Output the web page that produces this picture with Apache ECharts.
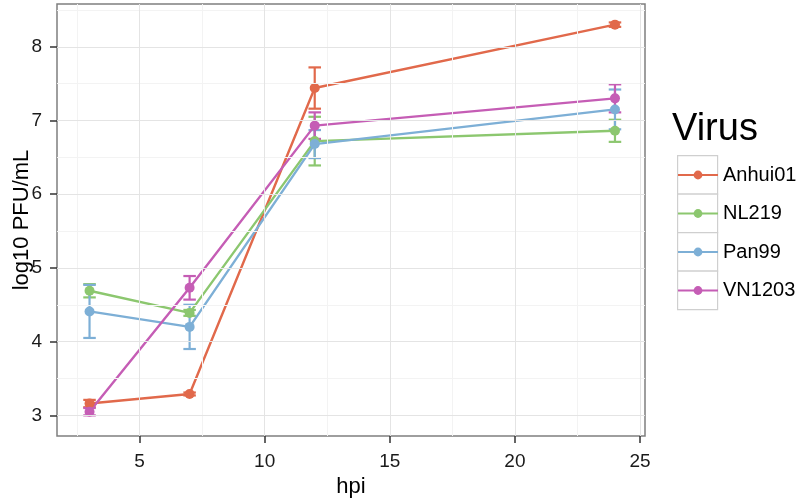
<!DOCTYPE html>
<html>
<head>
<meta charset="utf-8">
<script src="https://cdn.jsdelivr.net/npm/echarts@6/dist/echarts.min.js"></script>
<style>
html,body{margin:0;padding:0;background:#fff;}
#chart{width:800px;height:500px;}
</style>
</head>
<body>
<div id="chart"></div>
<script>
// ---- data ----
var hpi = [3, 7, 12, 24];
var virusNames = ['Anhui01', 'NL219', 'Pan99', 'VN1203'];
var anhui01Mean = [3.16, 3.29, 7.44, 8.30];
var anhui01Err  = [0.05, 0.02, 0.28, 0.03];
var nl219Mean   = [4.69, 4.39, 6.72, 6.86];
var nl219Err    = [0.09, 0.04, 0.33, 0.15];
var pan99Mean   = [4.41, 4.20, 6.68, 7.15];
var pan99Err    = [0.36, 0.30, 0.19, 0.27];
var vn1203Mean  = [3.05, 4.73, 6.93, 7.30];
var vn1203Err   = [0.05, 0.16, 0.18, 0.19];
var xTicks = [5, 10, 15, 20, 25];
var yTicks = [3, 4, 5, 6, 7, 8];
var xMinorGrid = [2.5, 7.5, 12.5, 17.5, 22.5];
var yMinorGrid = [3.5, 4.5, 5.5, 6.5, 7.5, 8.5];

var means = [anhui01Mean, nl219Mean, pan99Mean, vn1203Mean];
var errs = [anhui01Err, nl219Err, pan99Err, vn1203Err];
var colors = ['#E1694B', '#8CC76F', '#7DAFD6', '#C55DB5'];

var FONT = '"Liberation Sans", Arial, Helvetica, sans-serif';
var CAP = 0.25;

var chart = echarts.init(document.getElementById('chart'), null, {renderer: 'canvas'});

var series = [];
var gridLines = [];
xMinorGrid.forEach(function (v) { gridLines.push({xAxis: v, lineStyle: {color: '#F3F3F3', width: 1, type: 'solid'}}); });
yMinorGrid.forEach(function (v) { gridLines.push({yAxis: v, lineStyle: {color: '#F3F3F3', width: 1, type: 'solid'}}); });
xTicks.forEach(function (v) { gridLines.push({xAxis: v, lineStyle: {color: '#E4E4E4', width: 1, type: 'solid'}}); });
yTicks.forEach(function (v) { gridLines.push({yAxis: v, lineStyle: {color: '#E4E4E4', width: 1, type: 'solid'}}); });
series.push({
  name: 'grid', type: 'line', data: [], z: 0, silent: true,
  markLine: {silent: true, symbol: ['none', 'none'], label: {show: false}, animation: false, data: gridLines}
});

virusNames.forEach(function (nm, i) {
  var d = hpi.map(function (x, j) { return [x, means[i][j], errs[i][j]]; });
  series.push({
    name: nm + ' SE', type: 'custom', z: 2, silent: true,
    data: d,
    renderItem: function (params, api) {
      var x = api.value(0), m = api.value(1), e = api.value(2);
      var t = api.coord([x, m + e]), b = api.coord([x, m - e]);
      var tl = api.coord([x - CAP, m + e]), tr = api.coord([x + CAP, m + e]);
      var bl = api.coord([x - CAP, m - e]), br = api.coord([x + CAP, m - e]);
      var st = {stroke: colors[i], lineWidth: 2.2};
      return {type: 'group', children: [
        {type: 'line', shape: {x1: t[0], y1: t[1], x2: b[0], y2: b[1]}, style: st},
        {type: 'line', shape: {x1: tl[0], y1: tl[1], x2: tr[0], y2: tr[1]}, style: st},
        {type: 'line', shape: {x1: bl[0], y1: bl[1], x2: br[0], y2: br[1]}, style: st}
      ]};
    }
  });
});

virusNames.forEach(function (nm, i) {
  series.push({
    name: nm, type: 'line', z: 3,
    data: hpi.map(function (x, j) { return [x, means[i][j]]; }),
    symbol: 'circle', symbolSize: 10, showSymbol: true,
    lineStyle: {color: colors[i], width: 2.4},
    itemStyle: {color: colors[i]},
    emphasis: {disabled: true},
    animation: false
  });
});

var boxes = virusNames.map(function (nm, i) {
  return {type: 'rect', left: 677, top: 155 + 38.5 * i, z: 1,
    shape: {width: 40, height: 38.5},
    style: {fill: '#fff', stroke: '#CFCFCF', lineWidth: 1.2}};
});

chart.setOption({
  animation: false,
  backgroundColor: '#fff',
  title: {text: 'Virus', left: 672, top: 111, padding: 0,
    textStyle: {fontFamily: FONT, fontSize: 38, fontWeight: 'normal', color: '#000'}},
  legend: {
    data: virusNames, orient: 'vertical', left: 677, top: 165, padding: 0,
    itemWidth: 40, itemHeight: 11, itemGap: 18.5,
    textStyle: {fontFamily: FONT, fontSize: 20, color: '#000', lineHeight: 20},
    selectedMode: false
  },
  graphic: boxes,
  grid: {left: 57, top: 4, width: 588, height: 432, show: true,
    containLabel: false, outerBoundsMode: 'none',
    backgroundColor: '#fff', borderColor: '#7F7F7F', borderWidth: 1.5},
  xAxis: {
    type: 'value', min: 1.7, max: 25.2,
    name: 'hpi', nameLocation: 'middle', nameGap: 40, nameMoveOverlap: false,
    nameTextStyle: {fontFamily: FONT, fontSize: 22, color: '#000'},
    axisLine: {show: false},
    axisTick: {show: true, length: 7, lineStyle: {color: '#333', width: 1.5}, customValues: xTicks},
    axisLabel: {fontFamily: FONT, fontSize: 19, color: '#1a1a1a', margin: 16, customValues: xTicks},
    splitLine: {show: false}
  },
  yAxis: {
    type: 'value', min: 2.72, max: 8.58,
    name: 'log10 PFU/mL', nameLocation: 'middle', nameGap: 24, nameMoveOverlap: false,
    nameTextStyle: {fontFamily: FONT, fontSize: 22, color: '#000'},
    axisLine: {show: false},
    axisTick: {show: true, length: 7, lineStyle: {color: '#333', width: 1.5}, customValues: yTicks},
    axisLabel: {fontFamily: FONT, fontSize: 19, color: '#1a1a1a', margin: 15, customValues: yTicks},
    splitLine: {show: false}
  },
  series: series
});
</script>
</body>
</html>
